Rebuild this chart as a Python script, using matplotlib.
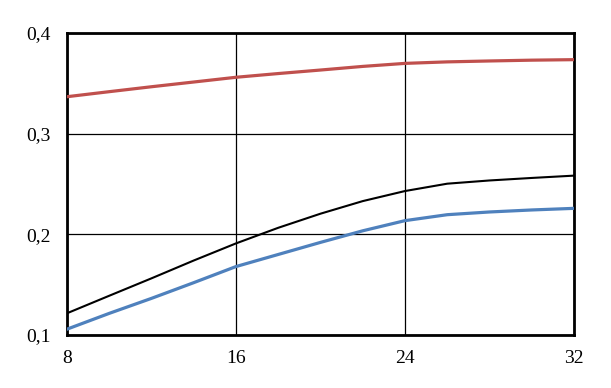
import numpy as np
import matplotlib.pyplot as plt

x = [8, 10, 12, 14, 16, 18, 20, 22, 24, 26, 28, 30, 32]
red = [0.3367, 0.3417, 0.3466, 0.3513, 0.3560, 0.3597, 0.3632, 0.3668,
       0.3698, 0.3713, 0.3722, 0.3730, 0.3735]
black = [0.1216, 0.1390, 0.1563, 0.1740, 0.1910, 0.2065, 0.2205, 0.2330,
         0.2430, 0.2503, 0.2535, 0.2560, 0.2583]
blue = [0.1058, 0.1215, 0.1364, 0.1520, 0.1680, 0.1800, 0.1920, 0.2035,
        0.2136, 0.2195, 0.2222, 0.2242, 0.2258]

xticks = [8, 16, 24, 32]
yticks = [0.1, 0.2, 0.3, 0.4]
ylabels = ["0,1", "0,2", "0,3", "0,4"]

plt.rcParams["font.family"] = "Liberation Serif"

fig = plt.figure(figsize=(6.11, 3.88), dpi=100)
ax = fig.add_axes([0.1097, 0.1366, 0.8297, 0.7784])

ax.plot(x, red, color="#C0504D", lw=2.3, zorder=3, solid_joinstyle="round")
ax.plot(x, black, color="black", lw=1.5, zorder=3, solid_joinstyle="round")
ax.plot(x, blue, color="#4F81BD", lw=2.3, zorder=3, solid_joinstyle="round")

ax.set_xlim(8, 32)
ax.set_ylim(0.1, 0.4)
ax.set_xticks(xticks)
ax.set_yticks(yticks)
ax.set_yticklabels(ylabels)
ax.grid(True, color="black", lw=0.9)
ax.tick_params(length=0, labelsize=14)
ax.tick_params(axis="x", pad=11)
ax.tick_params(axis="y", pad=12)
for s in ax.spines.values():
    s.set_linewidth(2)

fig.savefig("out.png", dpi=100)
